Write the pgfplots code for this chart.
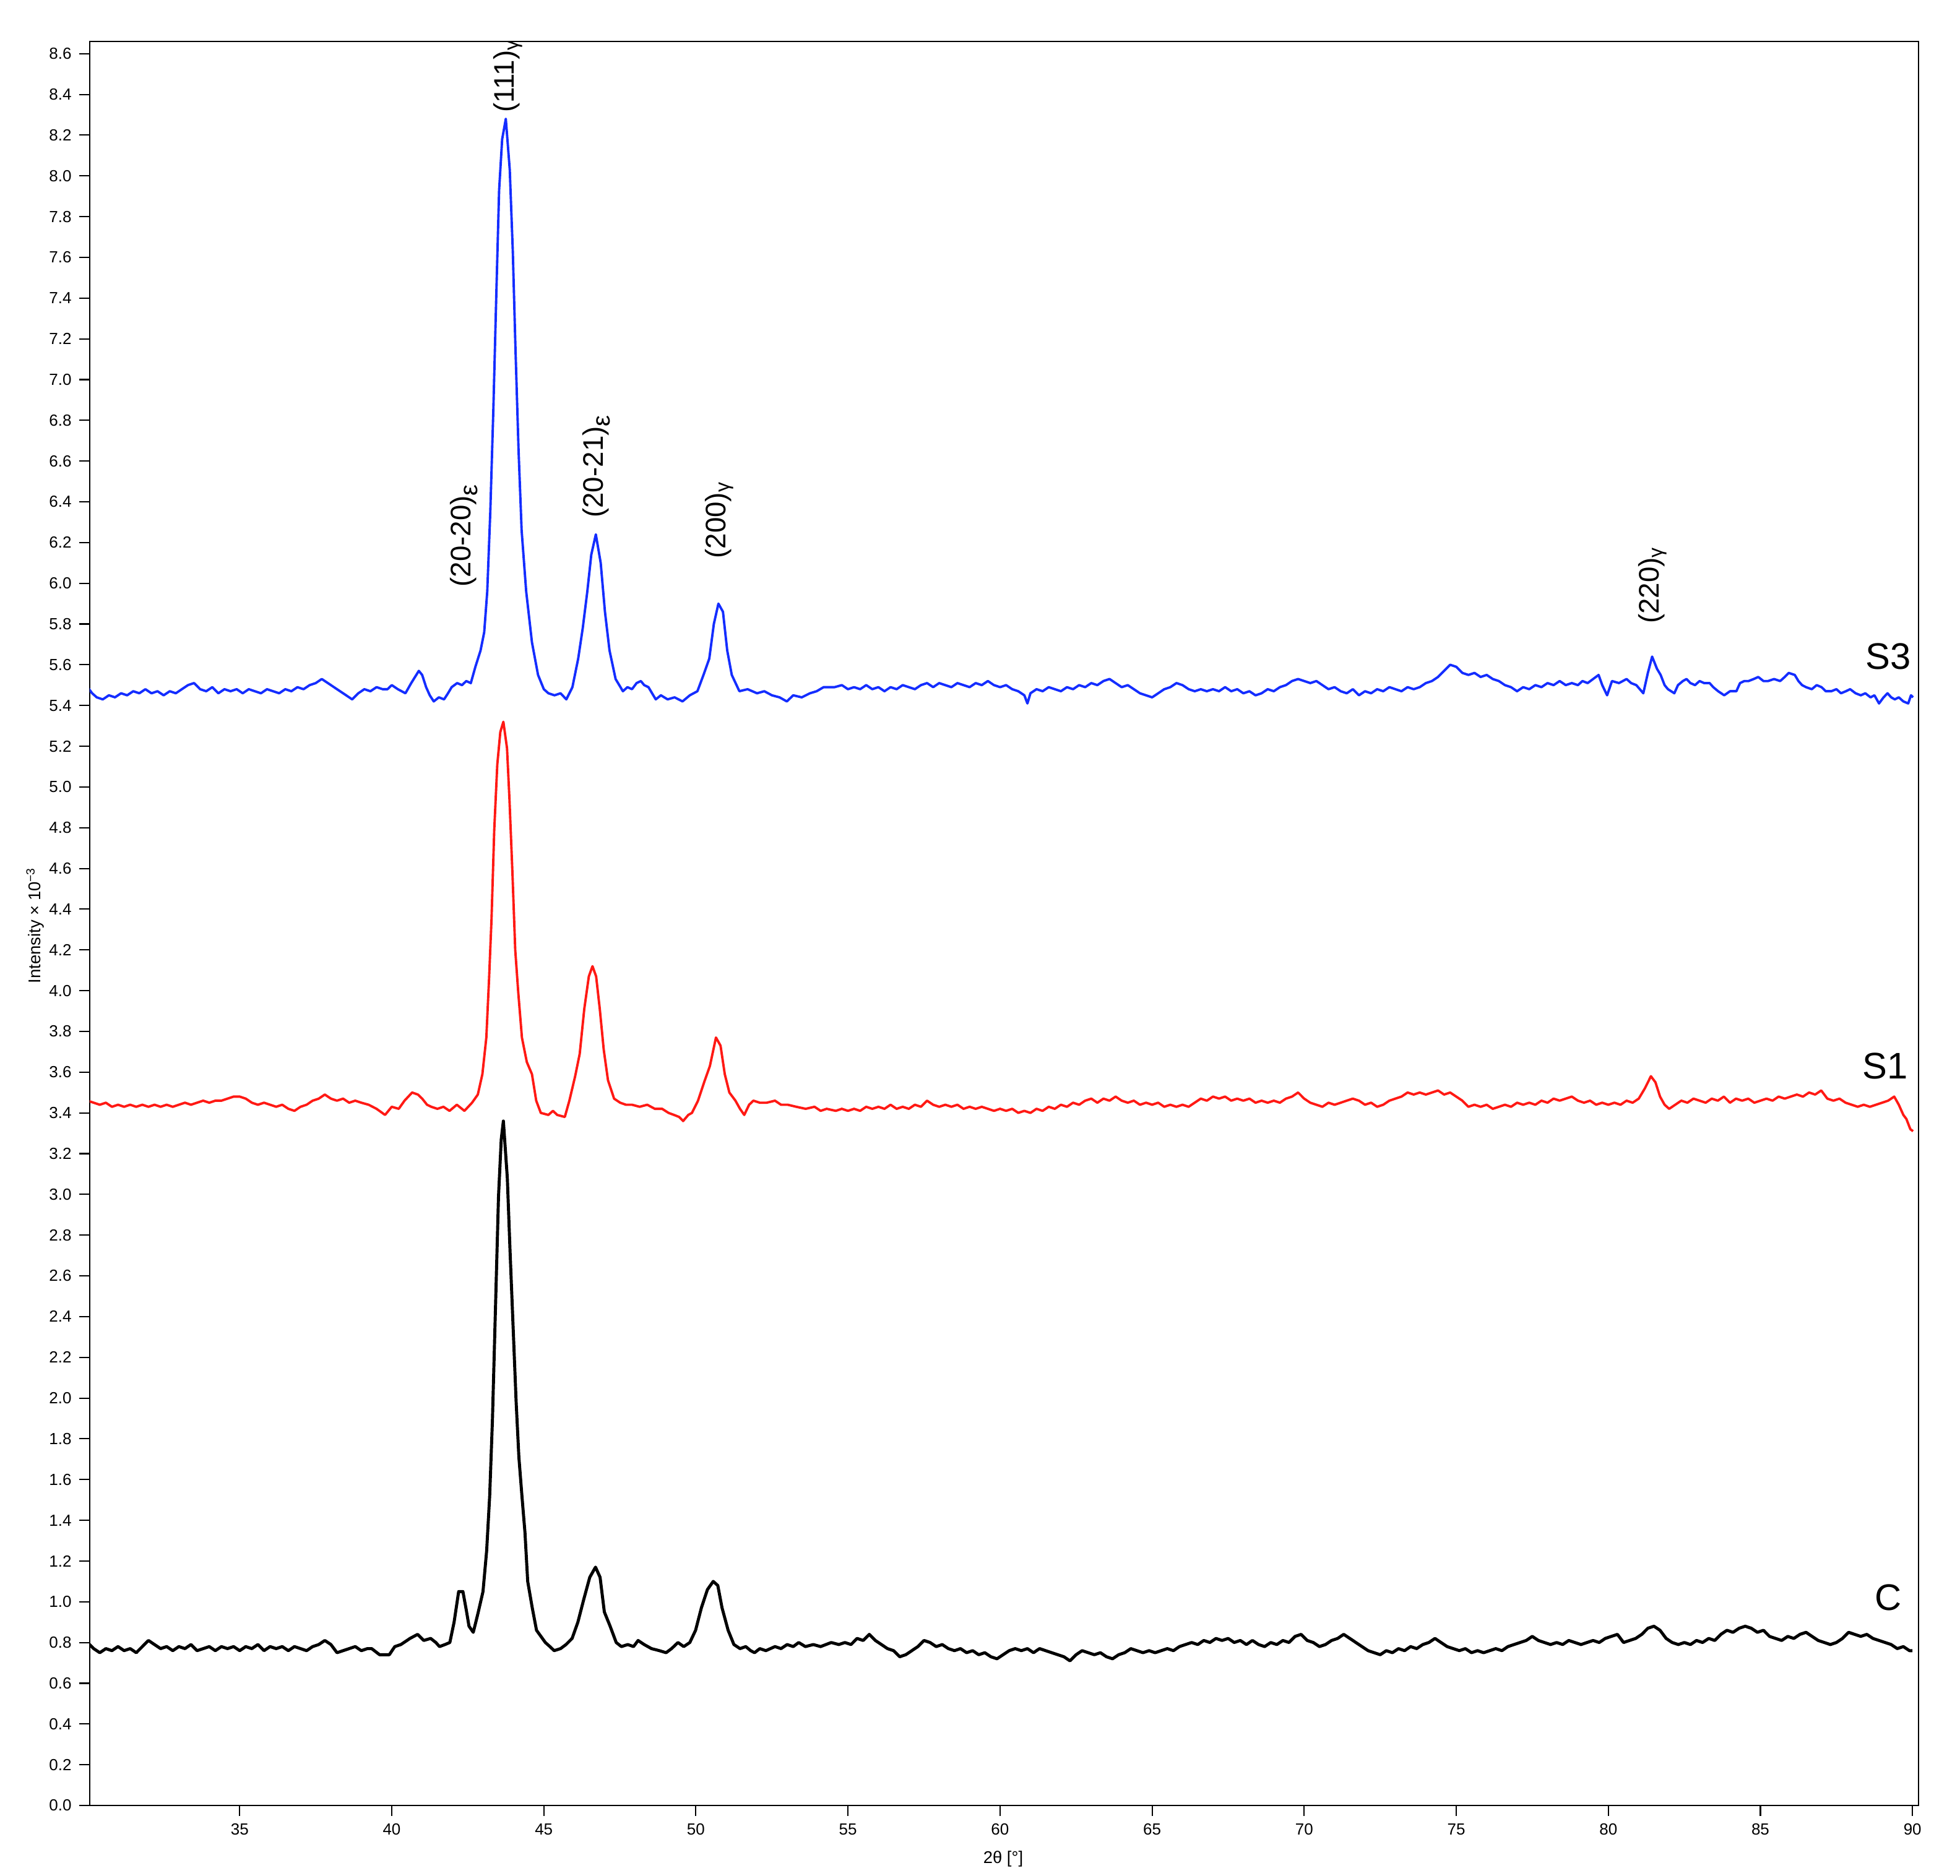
\documentclass[border=0pt]{standalone}
\usepackage{fontspec}
\setmainfont{Liberation Sans}
\usepackage{pgfplots}
\pgfplotsset{compat=1.18}

\definecolor{sthree}{RGB}{20,45,255}
\definecolor{sone}{RGB}{255,25,20}
\newcommand{\eps}{\raisebox{-0.45ex}{\fontsize{11.5}{13}\selectfont ε}}

\begin{document}
\begin{tikzpicture}
\begin{axis}[
    scale only axis,
    width=29.55cm, height=28.51cm,
    xmin=30.07, xmax=90.2,
    ymin=0, ymax=8.66,
    xtick={35,40,...,90},
    ytick={0,0.2,...,8.6},
    tick align=outside,
    xtick pos=bottom, ytick pos=left,
    major tick length=0.17cm,
    tick style={black, line width=0.6pt},
    axis line style={black, line width=0.8pt},
    /pgf/number format/assume math mode=true,
    yticklabel style={/pgf/number format/.cd, fixed, fixed zerofill, precision=1},
    ticklabel style={font=\fontsize{7.4}{8}\selectfont},
    xlabel={2θ [°]},
    ylabel={Intensity × 10\textsuperscript{−3}},
    label style={font=\fontsize{7.8}{9}\selectfont},
    xlabel style={at={(axis description cs:0.4995,-0.0302)}, anchor=center},
    ylabel style={at={(axis description cs:-0.0298,0.499)}, anchor=center},
    every axis plot/.append style={line join=round, no markers},
]
% S3
\addplot[sthree, line width=1.1pt] coordinates {
(30.0,5.49) (30.15,5.46) (30.3,5.44) (30.5,5.43) (30.7,5.45) (30.9,5.44) (31.1,5.46) (31.3,5.45) (31.5,5.47) (31.7,5.46)
(31.9,5.48) (32.1,5.46) (32.3,5.47) (32.5,5.45) (32.7,5.47) (32.9,5.46) (33.1,5.48) (33.3,5.50) (33.5,5.51) (33.7,5.48)
(33.9,5.47) (34.1,5.49) (34.3,5.46) (34.5,5.48) (34.7,5.47) (34.9,5.48) (35.1,5.46) (35.3,5.48) (35.5,5.47) (35.7,5.46)
(35.9,5.48) (36.1,5.47) (36.3,5.46) (36.5,5.48) (36.7,5.47) (36.9,5.49) (37.1,5.48) (37.3,5.50) (37.5,5.51) (37.7,5.53)
(37.9,5.51) (38.1,5.49) (38.3,5.47) (38.5,5.45) (38.7,5.43) (38.9,5.46) (39.1,5.48) (39.3,5.47) (39.5,5.49) (39.7,5.48)
(39.86,5.48) (40.0,5.50) (40.2,5.48) (40.45,5.46) (40.64,5.51) (40.89,5.57) (41.0,5.55) (41.13,5.49) (41.25,5.45) (41.38,5.42)
(41.55,5.44) (41.72,5.43) (41.85,5.46) (41.97,5.49) (42.15,5.51) (42.31,5.50) (42.45,5.52) (42.6,5.51) (42.75,5.59) (42.92,5.67)
(43.04,5.76) (43.14,5.96) (43.24,6.35) (43.34,6.85) (43.44,7.43) (43.53,7.93) (43.63,8.18) (43.75,8.28) (43.88,8.03) (43.98,7.63)
(44.07,7.14) (44.17,6.65) (44.27,6.26) (44.42,5.96) (44.61,5.71) (44.81,5.55) (45.0,5.48) (45.15,5.46) (45.35,5.45) (45.55,5.46)
(45.74,5.43) (45.94,5.49) (46.13,5.63) (46.28,5.78) (46.43,5.96) (46.56,6.14) (46.71,6.24) (46.87,6.10) (47.01,5.86) (47.16,5.67)
(47.36,5.53) (47.6,5.47) (47.75,5.49) (47.9,5.48) (48.05,5.51) (48.19,5.52) (48.3,5.50) (48.44,5.49) (48.68,5.43) (48.85,5.45)
(49.07,5.43) (49.3,5.44) (49.56,5.42) (49.8,5.45) (50.05,5.47) (50.25,5.55) (50.44,5.63) (50.59,5.80) (50.74,5.90) (50.89,5.86)
(51.03,5.67) (51.18,5.55) (51.43,5.47) (51.7,5.48) (52.01,5.46) (52.25,5.47) (52.5,5.45) (52.75,5.44) (52.99,5.42) (53.2,5.45)
(53.48,5.44) (53.75,5.46) (53.97,5.47) (54.2,5.49) (54.56,5.49) (54.8,5.50) (55.0,5.48) (55.2,5.49) (55.4,5.48) (55.6,5.50)
(55.8,5.48) (56.0,5.49) (56.2,5.47) (56.4,5.49) (56.6,5.48) (56.8,5.50) (57.0,5.49) (57.2,5.48) (57.4,5.50) (57.6,5.51)
(57.8,5.49) (58.0,5.51) (58.2,5.50) (58.4,5.49) (58.6,5.51) (58.8,5.50) (59.0,5.49) (59.2,5.51) (59.4,5.50) (59.6,5.52)
(59.8,5.50) (60.0,5.49) (60.2,5.50) (60.4,5.48) (60.6,5.47) (60.8,5.45) (60.9,5.41) (61.0,5.46) (61.2,5.48) (61.4,5.47)
(61.6,5.49) (61.8,5.48) (62.0,5.47) (62.2,5.49) (62.4,5.48) (62.6,5.50) (62.8,5.49) (63.0,5.51) (63.2,5.50) (63.4,5.52)
(63.6,5.53) (63.8,5.51) (64.0,5.49) (64.2,5.50) (64.4,5.48) (64.6,5.46) (64.8,5.45) (65.0,5.44) (65.2,5.46) (65.4,5.48)
(65.6,5.49) (65.8,5.51) (66.0,5.50) (66.2,5.48) (66.4,5.47) (66.6,5.48) (66.8,5.47) (67.0,5.48) (67.2,5.47) (67.4,5.49)
(67.6,5.47) (67.8,5.48) (68.0,5.46) (68.2,5.47) (68.4,5.45) (68.6,5.46) (68.8,5.48) (69.0,5.47) (69.2,5.49) (69.4,5.50)
(69.6,5.52) (69.8,5.53) (70.0,5.52) (70.2,5.51) (70.4,5.52) (70.6,5.50) (70.8,5.48) (71.0,5.49) (71.2,5.47) (71.4,5.46)
(71.6,5.48) (71.8,5.45) (72.0,5.47) (72.2,5.46) (72.4,5.48) (72.6,5.47) (72.8,5.49) (73.0,5.48) (73.2,5.47) (73.4,5.49)
(73.6,5.48) (73.8,5.49) (74.0,5.51) (74.2,5.52) (74.4,5.54) (74.6,5.57) (74.8,5.60) (75.0,5.59) (75.2,5.56) (75.4,5.55)
(75.6,5.56) (75.8,5.54) (76.0,5.55) (76.2,5.53) (76.4,5.52) (76.6,5.50) (76.8,5.49) (77.0,5.47) (77.2,5.49) (77.4,5.48)
(77.6,5.50) (77.8,5.49) (78.0,5.51) (78.2,5.50) (78.4,5.52) (78.6,5.50) (78.8,5.51) (79.0,5.50) (79.15,5.52) (79.32,5.51)
(79.5,5.53) (79.68,5.55) (79.8,5.50) (79.96,5.45) (80.12,5.52) (80.35,5.51) (80.6,5.53) (80.75,5.51) (80.92,5.50) (81.15,5.46)
(81.3,5.56) (81.44,5.64) (81.6,5.58) (81.72,5.55) (81.85,5.50) (81.96,5.48) (82.17,5.46) (82.29,5.50) (82.45,5.52) (82.57,5.53)
(82.7,5.51) (82.85,5.50) (83.0,5.52) (83.15,5.51) (83.33,5.51) (83.45,5.49) (83.61,5.47) (83.81,5.45) (84.0,5.47) (84.21,5.47)
(84.33,5.51) (84.47,5.52) (84.61,5.52) (84.78,5.53) (84.93,5.54) (85.1,5.52) (85.25,5.52) (85.45,5.53) (85.65,5.52) (85.8,5.54)
(85.93,5.56) (86.13,5.55) (86.25,5.52) (86.37,5.50) (86.5,5.49) (86.69,5.48) (86.85,5.50) (87.01,5.49) (87.15,5.47) (87.33,5.47)
(87.5,5.48) (87.65,5.46) (87.81,5.47) (87.95,5.48) (88.13,5.46) (88.3,5.45) (88.45,5.46) (88.62,5.44) (88.75,5.45) (88.9,5.41)
(89.05,5.44) (89.18,5.46) (89.3,5.44) (89.42,5.43) (89.55,5.44) (89.7,5.42) (89.86,5.41) (89.95,5.45) (90.02,5.44)
};
% S1
\addplot[sone, line width=1.1pt] coordinates {
(30.0,3.46) (30.2,3.45) (30.4,3.44) (30.6,3.45) (30.8,3.43) (31.0,3.44) (31.2,3.43) (31.4,3.44) (31.6,3.43) (31.8,3.44)
(32.0,3.43) (32.2,3.44) (32.4,3.43) (32.6,3.44) (32.8,3.43) (33.0,3.44) (33.2,3.45) (33.4,3.44) (33.6,3.45) (33.8,3.46)
(34.0,3.45) (34.2,3.46) (34.4,3.46) (34.6,3.47) (34.8,3.48) (35.0,3.48) (35.2,3.47) (35.4,3.45) (35.6,3.44) (35.8,3.45)
(36.0,3.44) (36.2,3.43) (36.4,3.44) (36.6,3.42) (36.8,3.41) (37.0,3.43) (37.2,3.44) (37.4,3.46) (37.6,3.47) (37.8,3.49)
(38.0,3.47) (38.2,3.46) (38.4,3.47) (38.6,3.45) (38.8,3.46) (39.0,3.45) (39.24,3.44) (39.5,3.42) (39.78,3.39) (40.0,3.43)
(40.23,3.42) (40.42,3.46) (40.67,3.50) (40.86,3.49) (41.0,3.47) (41.16,3.44) (41.3,3.43) (41.5,3.42) (41.7,3.43) (41.9,3.41)
(42.14,3.44) (42.39,3.41) (42.64,3.45) (42.83,3.49) (42.98,3.59) (43.11,3.77) (43.2,4.06) (43.28,4.35) (43.37,4.79) (43.47,5.11)
(43.57,5.27) (43.67,5.32) (43.79,5.19) (43.87,4.94) (43.97,4.57) (44.06,4.20) (44.16,3.99) (44.28,3.77) (44.44,3.65) (44.61,3.59)
(44.75,3.46) (44.9,3.40) (45.15,3.39) (45.3,3.41) (45.44,3.39) (45.69,3.38) (45.84,3.46) (46.03,3.58) (46.18,3.69) (46.33,3.91)
(46.48,4.07) (46.6,4.12) (46.72,4.07) (46.84,3.91) (46.97,3.71) (47.11,3.56) (47.31,3.47) (47.51,3.45) (47.7,3.44) (47.9,3.44)
(48.15,3.43) (48.4,3.44) (48.65,3.42) (48.89,3.42) (49.1,3.40) (49.28,3.39) (49.45,3.38) (49.58,3.36) (49.75,3.39) (49.87,3.40)
(50.07,3.46) (50.27,3.55) (50.46,3.63) (50.66,3.77) (50.81,3.73) (50.95,3.59) (51.1,3.50) (51.3,3.46) (51.45,3.42) (51.59,3.39)
(51.75,3.44) (51.89,3.46) (52.1,3.45) (52.33,3.45) (52.6,3.46) (52.8,3.44) (53.02,3.44) (53.3,3.43) (53.61,3.42) (53.9,3.43)
(54.1,3.41) (54.3,3.42) (54.6,3.41) (54.8,3.42) (55.0,3.41) (55.2,3.42) (55.4,3.41) (55.6,3.43) (55.8,3.42) (56.0,3.43)
(56.2,3.42) (56.4,3.44) (56.6,3.42) (56.8,3.43) (57.0,3.42) (57.2,3.44) (57.4,3.43) (57.6,3.46) (57.8,3.44) (58.0,3.43)
(58.2,3.44) (58.4,3.43) (58.6,3.44) (58.8,3.42) (59.0,3.43) (59.2,3.42) (59.4,3.43) (59.6,3.42) (59.8,3.41) (60.0,3.42)
(60.2,3.41) (60.4,3.42) (60.6,3.40) (60.8,3.41) (61.0,3.40) (61.2,3.42) (61.4,3.41) (61.6,3.43) (61.8,3.42) (62.0,3.44)
(62.2,3.43) (62.4,3.45) (62.6,3.44) (62.8,3.46) (63.0,3.47) (63.2,3.45) (63.4,3.47) (63.6,3.46) (63.8,3.48) (64.0,3.46)
(64.2,3.45) (64.4,3.46) (64.6,3.44) (64.8,3.45) (65.0,3.44) (65.2,3.45) (65.4,3.43) (65.6,3.44) (65.8,3.43) (66.0,3.44)
(66.2,3.43) (66.4,3.45) (66.6,3.47) (66.8,3.46) (67.0,3.48) (67.2,3.47) (67.4,3.48) (67.6,3.46) (67.8,3.47) (68.0,3.46)
(68.2,3.47) (68.4,3.45) (68.6,3.46) (68.8,3.45) (69.0,3.46) (69.2,3.45) (69.4,3.47) (69.6,3.48) (69.8,3.50) (70.0,3.47)
(70.2,3.45) (70.4,3.44) (70.6,3.43) (70.8,3.45) (71.0,3.44) (71.2,3.45) (71.4,3.46) (71.6,3.47) (71.8,3.46) (72.0,3.44)
(72.2,3.45) (72.4,3.43) (72.6,3.44) (72.8,3.46) (73.0,3.47) (73.2,3.48) (73.4,3.50) (73.6,3.49) (73.8,3.50) (74.0,3.49)
(74.2,3.50) (74.4,3.51) (74.6,3.49) (74.8,3.50) (75.0,3.48) (75.2,3.46) (75.4,3.43) (75.6,3.44) (75.8,3.43) (76.0,3.44)
(76.2,3.42) (76.4,3.43) (76.6,3.44) (76.8,3.43) (77.0,3.45) (77.2,3.44) (77.4,3.45) (77.6,3.44) (77.8,3.46) (78.0,3.45)
(78.2,3.47) (78.4,3.46) (78.6,3.47) (78.8,3.48) (79.0,3.46) (79.2,3.45) (79.4,3.46) (79.6,3.44) (79.8,3.45) (80.0,3.44)
(80.2,3.45) (80.4,3.44) (80.6,3.46) (80.8,3.45) (81.0,3.47) (81.2,3.52) (81.4,3.58) (81.55,3.55) (81.7,3.48) (81.85,3.44)
(82.0,3.42) (82.2,3.44) (82.4,3.46) (82.6,3.45) (82.8,3.47) (83.0,3.46) (83.2,3.45) (83.4,3.47) (83.6,3.46) (83.8,3.48)
(84.0,3.45) (84.2,3.47) (84.4,3.46) (84.6,3.47) (84.8,3.45) (85.0,3.46) (85.2,3.47) (85.4,3.46) (85.6,3.48) (85.8,3.47)
(86.0,3.48) (86.2,3.49) (86.4,3.48) (86.6,3.50) (86.8,3.49) (87.0,3.51) (87.2,3.47) (87.4,3.46) (87.6,3.47) (87.8,3.45)
(88.0,3.44) (88.2,3.43) (88.4,3.44) (88.6,3.43) (88.8,3.44) (89.0,3.45) (89.2,3.46) (89.4,3.48) (89.55,3.44) (89.7,3.39)
(89.8,3.37) (89.93,3.32) (90.02,3.31)
};
% C
\addplot[black, line width=1.4pt] coordinates {
(30.0,0.80) (30.2,0.77) (30.4,0.75) (30.6,0.77) (30.8,0.76) (31.0,0.78) (31.2,0.76) (31.4,0.77) (31.6,0.75) (31.8,0.78)
(32.0,0.81) (32.2,0.79) (32.4,0.77) (32.6,0.78) (32.8,0.76) (33.0,0.78) (33.2,0.77) (33.4,0.79) (33.6,0.76) (33.8,0.77)
(34.0,0.78) (34.2,0.76) (34.4,0.78) (34.6,0.77) (34.8,0.78) (35.0,0.76) (35.2,0.78) (35.4,0.77) (35.6,0.79) (35.8,0.76)
(36.0,0.78) (36.2,0.77) (36.4,0.78) (36.6,0.76) (36.8,0.78) (37.0,0.77) (37.2,0.76) (37.4,0.78) (37.6,0.79) (37.8,0.81)
(38.0,0.79) (38.2,0.75) (38.4,0.76) (38.6,0.77) (38.8,0.78) (39.0,0.76) (39.2,0.77) (39.34,0.77) (39.6,0.74) (39.92,0.74)
(40.1,0.78) (40.3,0.79) (40.6,0.82) (40.85,0.84) (41.05,0.81) (41.28,0.82) (41.45,0.80) (41.57,0.78) (41.75,0.79) (41.91,0.80)
(42.05,0.90) (42.2,1.05) (42.34,1.05) (42.45,0.96) (42.54,0.88) (42.68,0.85) (42.83,0.94) (43.0,1.05) (43.12,1.25) (43.22,1.52)
(43.31,1.89) (43.41,2.44) (43.51,2.99) (43.6,3.27) (43.67,3.36) (43.8,3.08) (43.89,2.72) (43.99,2.35) (44.09,1.98) (44.18,1.71)
(44.28,1.52) (44.38,1.34) (44.47,1.10) (44.62,0.97) (44.76,0.86) (45.05,0.80) (45.2,0.78) (45.34,0.76) (45.55,0.77) (45.73,0.79)
(45.93,0.82) (46.12,0.90) (46.31,1.01) (46.51,1.12) (46.7,1.17) (46.85,1.12) (46.99,0.95) (47.18,0.88) (47.38,0.80) (47.55,0.78)
(47.76,0.79) (47.95,0.78) (48.1,0.81) (48.3,0.79) (48.54,0.77) (48.8,0.76) (49.02,0.75) (49.2,0.77) (49.41,0.80) (49.6,0.78)
(49.8,0.80) (49.99,0.86) (50.18,0.97) (50.38,1.06) (50.57,1.10) (50.72,1.08) (50.86,0.97) (51.06,0.86) (51.25,0.79) (51.45,0.77)
(51.64,0.78) (51.8,0.76) (51.93,0.75) (52.1,0.77) (52.3,0.76) (52.6,0.78) (52.8,0.77) (53.0,0.79) (53.2,0.78) (53.38,0.80)
(53.6,0.78) (53.86,0.79) (54.1,0.78) (54.45,0.80) (54.7,0.79) (54.9,0.80) (55.1,0.79) (55.3,0.82) (55.5,0.81) (55.7,0.84)
(55.9,0.81) (56.1,0.79) (56.3,0.77) (56.5,0.76) (56.7,0.73) (56.9,0.74) (57.1,0.76) (57.3,0.78) (57.5,0.81) (57.7,0.80)
(57.9,0.78) (58.1,0.79) (58.3,0.77) (58.5,0.76) (58.7,0.77) (58.9,0.75) (59.1,0.76) (59.3,0.74) (59.5,0.75) (59.7,0.73)
(59.9,0.72) (60.1,0.74) (60.3,0.76) (60.5,0.77) (60.7,0.76) (60.9,0.77) (61.1,0.75) (61.3,0.77) (61.5,0.76) (61.7,0.75)
(61.9,0.74) (62.1,0.73) (62.3,0.71) (62.5,0.74) (62.7,0.76) (62.9,0.75) (63.1,0.74) (63.3,0.75) (63.5,0.73) (63.7,0.72)
(63.9,0.74) (64.1,0.75) (64.3,0.77) (64.5,0.76) (64.7,0.75) (64.9,0.76) (65.1,0.75) (65.3,0.76) (65.5,0.77) (65.7,0.76)
(65.9,0.78) (66.1,0.79) (66.3,0.80) (66.5,0.79) (66.7,0.81) (66.9,0.80) (67.1,0.82) (67.3,0.81) (67.5,0.82) (67.7,0.80)
(67.9,0.81) (68.1,0.79) (68.3,0.81) (68.5,0.79) (68.7,0.78) (68.9,0.80) (69.1,0.79) (69.3,0.81) (69.5,0.80) (69.7,0.83)
(69.9,0.84) (70.1,0.81) (70.3,0.80) (70.5,0.78) (70.7,0.79) (70.9,0.81) (71.1,0.82) (71.3,0.84) (71.5,0.82) (71.7,0.80)
(71.9,0.78) (72.1,0.76) (72.3,0.75) (72.5,0.74) (72.7,0.76) (72.9,0.75) (73.1,0.77) (73.3,0.76) (73.5,0.78) (73.7,0.77)
(73.9,0.79) (74.1,0.80) (74.3,0.82) (74.5,0.80) (74.7,0.78) (74.9,0.77) (75.1,0.76) (75.3,0.77) (75.5,0.75) (75.7,0.76)
(75.9,0.75) (76.1,0.76) (76.3,0.77) (76.5,0.76) (76.7,0.78) (76.9,0.79) (77.1,0.80) (77.3,0.81) (77.5,0.83) (77.7,0.81)
(77.9,0.80) (78.1,0.79) (78.3,0.80) (78.5,0.79) (78.7,0.81) (78.9,0.80) (79.1,0.79) (79.3,0.80) (79.5,0.81) (79.7,0.80)
(79.9,0.82) (80.1,0.83) (80.3,0.84) (80.5,0.80) (80.7,0.81) (80.9,0.82) (81.1,0.84) (81.3,0.87) (81.5,0.88) (81.7,0.86)
(81.9,0.82) (82.1,0.80) (82.3,0.79) (82.5,0.80) (82.7,0.79) (82.9,0.81) (83.1,0.80) (83.3,0.82) (83.5,0.81) (83.7,0.84)
(83.9,0.86) (84.1,0.85) (84.3,0.87) (84.5,0.88) (84.7,0.87) (84.9,0.85) (85.1,0.86) (85.3,0.83) (85.5,0.82) (85.7,0.81)
(85.9,0.83) (86.1,0.82) (86.3,0.84) (86.5,0.85) (86.7,0.83) (86.9,0.81) (87.1,0.80) (87.3,0.79) (87.5,0.80) (87.7,0.82)
(87.9,0.85) (88.1,0.84) (88.3,0.83) (88.5,0.84) (88.7,0.82) (88.9,0.81) (89.1,0.80) (89.3,0.79) (89.5,0.77) (89.7,0.78)
(89.9,0.76) (90.0,0.76)
};
% peak labels
\begin{scope}[every node/.style={rotate=90, anchor=mid west, inner sep=0pt, font=\fontsize{13}{15}\selectfont}]
\node at (axis cs:42.40,5.98) {(20-20)\eps};
\node at (axis cs:43.84,8.31) {(111)\textsubscript{γ}};
\node at (axis cs:46.76,6.32) {(20-21)\eps};
\node at (axis cs:50.79,6.12) {(200)\textsubscript{γ}};
\node at (axis cs:81.47,5.80) {(220)\textsubscript{γ}};
\end{scope}
% sample labels
\begin{scope}[every node/.style={anchor=center, inner sep=0pt, font=\fontsize{17}{20}\selectfont}]
\node at (axis cs:89.20,5.64) {S3};
\node at (axis cs:89.10,3.63) {S1};
\node at (axis cs:89.20,1.02) {C};
\end{scope}
\end{axis}
\path ([xshift=-1.45cm,yshift=-1.13cm]current axis.south west)
      rectangle ([xshift=0.67cm,yshift=0.67cm]current axis.north east);
\end{tikzpicture}
\end{document}
